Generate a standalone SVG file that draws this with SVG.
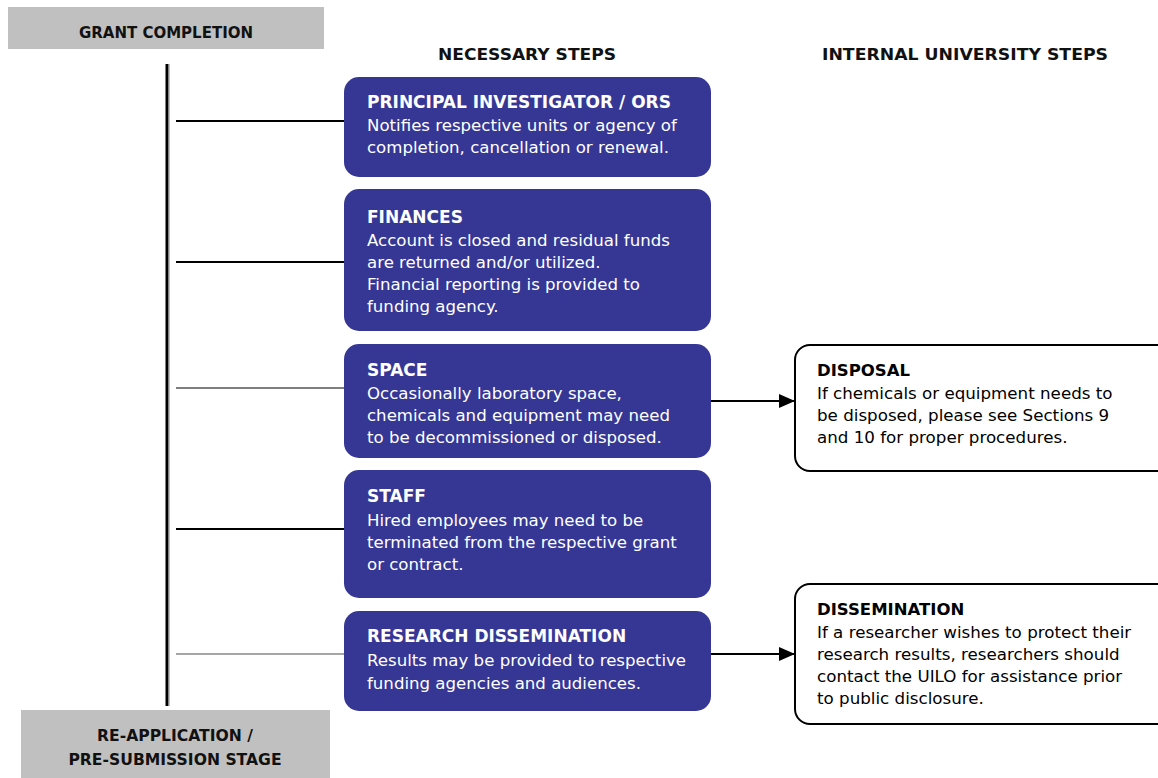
<svg xmlns="http://www.w3.org/2000/svg" width="1158" height="778" viewBox="0 0 1158 778">
<style>
text{font-family:"DejaVu Sans","Liberation Sans",sans-serif}
.hdr{font-size:15px;font-weight:bold;fill:#111;text-anchor:middle}
.col{font-size:16.5px;font-weight:bold;fill:#111;text-anchor:middle}
.bt{font-size:17px;font-weight:bold;fill:#fff}
.bb{font-size:16.6px;fill:#fff}
.wt{font-size:16.5px;font-weight:bold;fill:#000}
.wb{font-size:16.7px;fill:#000}
.blue{fill:#363795}
.white{fill:#fff;stroke:#000;stroke-width:2}
.gray{fill:#c0c0c0}
.ln{stroke:#000;stroke-width:2}
</style>
<defs>
<marker id="ah" markerWidth="16" markerHeight="14" refX="16" refY="7" orient="auto" markerUnits="userSpaceOnUse">
<path d="M0,0 L16,7 L0,14 Z" fill="#000"/>
</marker>
</defs>
<rect width="1158" height="778" fill="#fff"/>
<g id="grant-completion">
<rect class="gray" x="8" y="7" width="316" height="42"/>
<text class="hdr" x="166" y="38">GRANT COMPLETION</text>
</g>
<g id="reapplication">
<rect class="gray" x="21" y="710" width="309" height="68"/>
<text class="hdr" x="175" y="741" style="font-size:15.6px">RE-APPLICATION /</text>
<text class="hdr" x="175" y="765" style="font-size:15.6px">PRE-SUBMISSION STAGE</text>
</g>
<g id="headers">
<text class="col" x="527" y="60" textLength="178" lengthAdjust="spacingAndGlyphs">NECESSARY STEPS</text>
<text class="col" x="965" y="60" textLength="286" lengthAdjust="spacingAndGlyphs">INTERNAL UNIVERSITY STEPS</text>
</g>
<g id="connectors">
<line x1="167" y1="64" x2="167" y2="706" stroke="#000" stroke-width="3"/>
<line x1="169" y1="64" x2="169" y2="706" stroke="#888" stroke-width="1"/>
<line class="ln" x1="176" y1="121" x2="344" y2="121"/>
<line class="ln" x1="176" y1="262" x2="344" y2="262"/>
<line x1="176" y1="388" x2="344" y2="388" stroke="#000" stroke-width="1.2"/>
<line class="ln" x1="176" y1="529" x2="344" y2="529"/>
<line x1="176" y1="654" x2="344" y2="654" stroke="#888" stroke-width="1.5"/>
<line class="ln" x1="711" y1="401" x2="795" y2="401" marker-end="url(#ah)"/>
<line class="ln" x1="711" y1="654" x2="795" y2="654" marker-end="url(#ah)"/>
</g>
<g id="pi">
<rect class="blue" x="344" y="77" width="367" height="100" rx="15"/>
<text class="bt" x="367" y="108">PRINCIPAL INVESTIGATOR / ORS</text>
<text class="bb" x="367" y="131">Notifies respective units or agency of</text>
<text class="bb" x="367" y="153">completion, cancellation or renewal.</text>
</g>
<g id="finances">
<rect class="blue" x="344" y="189" width="367" height="142" rx="15"/>
<text class="bt" x="367" y="223">FINANCES</text>
<text class="bb" x="367" y="246">Account is closed and residual funds</text>
<text class="bb" x="367" y="268">are returned and/or utilized.</text>
<text class="bb" x="367" y="290">Financial reporting is provided to</text>
<text class="bb" x="367" y="312">funding agency.</text>
</g>
<g id="space">
<rect class="blue" x="344" y="344" width="367" height="114" rx="15"/>
<text class="bt" x="367" y="376">SPACE</text>
<text class="bb" x="367" y="399">Occasionally laboratory space,</text>
<text class="bb" x="367" y="421">chemicals and equipment may need</text>
<text class="bb" x="367" y="443">to be decommissioned or disposed.</text>
</g>
<g id="staff">
<rect class="blue" x="344" y="470" width="367" height="128" rx="15"/>
<text class="bt" x="367" y="502">STAFF</text>
<text class="bb" x="367" y="526">Hired employees may need to be</text>
<text class="bb" x="367" y="548">terminated from the respective grant</text>
<text class="bb" x="367" y="570">or contract.</text>
</g>
<g id="research-dissemination">
<rect class="blue" x="344" y="611" width="367" height="100" rx="15"/>
<text class="bt" x="367" y="642">RESEARCH DISSEMINATION</text>
<text class="bb" x="367" y="666">Results may be provided to respective</text>
<text class="bb" x="367" y="689">funding agencies and audiences.</text>
</g>
<g id="disposal">
<rect class="white" x="795" y="345" width="380" height="126" rx="15"/>
<text class="wt" x="817" y="376">DISPOSAL</text>
<text class="wb" x="817" y="399">If chemicals or equipment needs to</text>
<text class="wb" x="817" y="421">be disposed, please see Sections 9</text>
<text class="wb" x="817" y="443">and 10 for proper procedures.</text>
</g>
<g id="dissemination">
<rect class="white" x="795" y="584" width="380" height="140" rx="15"/>
<text class="wt" x="817" y="615">DISSEMINATION</text>
<text class="wb" x="817" y="638">If a researcher wishes to protect their</text>
<text class="wb" x="817" y="660">research results, researchers should</text>
<text class="wb" x="817" y="682">contact the UILO for assistance prior</text>
<text class="wb" x="817" y="704">to public disclosure.</text>
</g>
</svg>
